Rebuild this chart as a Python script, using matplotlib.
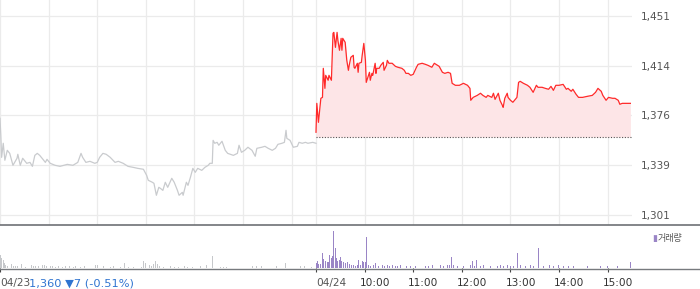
import matplotlib
matplotlib.use("Agg")
import matplotlib.pyplot as plt
import matplotlib.transforms as mtransforms
from matplotlib.lines import Line2D

# minutes since 04/23 09:00 (sessions back to back, 04/24 09:00 = 390)
prev_t = [0, 1, 2, 4, 6, 9, 12, 16, 21, 22, 25, 28, 33, 37, 40, 43, 46, 49, 53, 56, 58, 62, 68, 74, 83, 90,
          96, 100, 102, 106, 111, 117, 120, 123, 127, 131, 136, 142, 146, 152, 158, 164, 170, 177, 181, 183,
          188, 190, 193, 196, 198, 201, 204, 207, 212, 215, 219, 221, 225, 226, 230, 232, 235, 238, 241, 244,
          249, 253, 257, 259, 262, 263, 265, 268, 270, 274, 278, 281, 288, 293, 295, 298, 302, 306, 311, 315,
          317, 323, 327, 331, 336, 340, 343, 348, 351, 353, 354, 358, 362, 367, 369, 373, 377, 380, 386, 390]
prev_p = [1374.1, 1361.3, 1344.7, 1355.3, 1342.5, 1350.0, 1347.7, 1338.7, 1344.0, 1347.0, 1338.7, 1344.0,
          1340.2, 1340.9, 1337.9, 1346.2, 1347.7, 1346.2, 1343.2, 1340.9, 1343.2, 1340.2, 1338.7, 1337.9,
          1339.4, 1338.7, 1340.9, 1347.7, 1344.7, 1340.9, 1341.7, 1340.2, 1340.9, 1344.7, 1347.7, 1347.0,
          1344.7, 1340.9, 1341.7, 1340.2, 1337.9, 1337.2, 1336.4, 1335.7, 1331.1, 1327.4, 1325.9, 1325.1,
          1316.1, 1322.1, 1321.3, 1319.8, 1325.9, 1322.1, 1328.9, 1325.9, 1319.8, 1316.1, 1318.3, 1316.1,
          1325.9, 1323.6, 1329.6, 1336.4, 1333.4, 1336.4, 1334.9, 1337.2, 1338.7, 1340.2, 1340.2, 1357.5,
          1355.3, 1356.0, 1353.8, 1356.8, 1350.0, 1347.7, 1346.2, 1347.7, 1353.8, 1348.5, 1350.0, 1352.3,
          1350.0, 1345.5, 1351.5, 1352.3, 1353.0, 1351.5, 1350.0, 1351.5, 1354.5, 1355.3, 1356.0, 1365.1,
          1359.0, 1357.5, 1352.3, 1353.0, 1356.0, 1355.3, 1356.0, 1355.3, 1356.0, 1355.3]

cur_t = [390, 391, 393, 396, 398, 399, 401, 402, 405, 406, 409, 410, 411, 412, 414, 416, 417, 419, 421, 422,
         423, 426, 428, 430, 431, 433, 436, 437, 438, 441, 442, 443, 446, 447, 449, 451, 452, 454, 456, 457,
         459, 460, 463, 464, 465, 468, 470, 473, 474, 477, 478, 480, 484, 488, 491, 496, 499, 501, 504, 507,
         510, 514, 516, 521, 525, 528, 533, 536, 540, 542, 546, 549, 553, 556, 558, 562, 567, 572, 577, 580,
         581, 584, 589, 593, 596, 600, 602, 607, 609, 611, 615, 617, 620, 621, 623, 626, 627, 630, 633, 638,
         640, 642, 646, 651, 654, 658, 662, 664, 669, 673, 677, 680, 683, 686, 690, 695, 699, 701, 705, 707,
         711, 714, 719, 725, 731, 735, 738, 742, 744, 748, 751, 756, 759, 763, 765, 768, 772, 778]
cur_p = [1363.6, 1385.4, 1371.1, 1389.2, 1389.9, 1411.8, 1396.7, 1406.5, 1402.8, 1406.5, 1402.8, 1420.1,
         1438.2, 1438.9, 1427.6, 1438.9, 1432.9, 1425.4, 1434.4, 1425.4, 1434.4, 1431.4, 1417.8, 1410.3,
         1414.1, 1420.1, 1421.6, 1412.6, 1411.8, 1415.6, 1408.8, 1415.6, 1416.3, 1421.6, 1430.6, 1417.8,
         1401.2, 1405.0, 1408.8, 1402.8, 1408.0, 1406.5, 1415.6, 1408.0, 1411.8, 1411.8, 1414.1, 1416.3,
         1410.3, 1414.1, 1417.8, 1415.6, 1415.6, 1413.3, 1412.6, 1411.8, 1410.3, 1408.0, 1408.0, 1406.5,
         1407.3, 1412.6, 1414.8, 1415.6, 1414.8, 1414.1, 1412.6, 1415.6, 1414.1, 1413.3, 1408.8, 1408.0,
         1408.8, 1408.0, 1400.5, 1399.0, 1399.0, 1400.5, 1399.0, 1396.7, 1387.7, 1389.9, 1391.4, 1393.0,
         1391.4, 1389.9, 1391.4, 1389.9, 1393.0, 1388.4, 1393.0, 1387.7, 1383.9, 1382.4, 1389.2, 1393.0,
         1389.9, 1387.7, 1386.2, 1389.9, 1401.2, 1402.0, 1400.5, 1399.0, 1397.5, 1393.7, 1399.0, 1397.5,
         1397.5, 1396.7, 1396.0, 1398.2, 1395.2, 1399.0, 1399.0, 1399.7, 1396.0, 1396.7, 1394.5, 1396.0,
         1392.2, 1389.9, 1389.9, 1390.7, 1391.4, 1393.7, 1396.7, 1394.5, 1391.4, 1387.7, 1389.9, 1389.2,
         1389.2, 1387.7, 1384.7, 1385.4, 1385.4, 1385.4]

prev_close = 1360
change_text = "1,360 \u25bc7 (-0.51%)"

vol_prev_t = [0, 1, 2, 4, 5, 6, 9, 14, 16, 19, 21, 23, 26, 28, 31, 38, 41, 43, 47, 52, 54, 57, 62, 64, 68, 72,
              77, 80, 85, 90, 93, 99, 104, 117, 120, 123, 127, 136, 140, 148, 153, 158, 164, 174, 177, 179,
              181, 184, 186, 189, 191, 194, 196, 201, 210, 215, 220, 223, 227, 231, 237, 247, 254, 262, 272,
              275, 279, 311, 316, 322, 341, 352, 370, 375, 384]
vol_prev = [13, 10, 11, 8, 5, 3, 2, 4, 2, 2, 2, 3, 4, 2, 1, 3, 2, 2, 2, 3, 3, 2, 2, 2, 1, 2, 1, 2, 2, 1, 2, 1,
            2, 3, 3, 2, 2, 1, 2, 1, 5, 1, 1, 1, 7, 5, 4, 3, 2, 4, 7, 4, 2, 1, 2, 1, 1, 2, 2, 1, 1, 2, 3, 12,
            1, 1, 1, 2, 2, 2, 2, 5, 2, 2, 1]

vol_cur_t = [390, 391, 393, 395, 398, 399, 401, 404, 405, 406, 409, 410, 411, 414, 415, 416, 419, 420, 421,
             423, 426, 428, 431, 433, 436, 438, 441, 442, 444, 447, 448, 451, 452, 454, 457, 460, 463, 467,
             472, 474, 478, 480, 484, 488, 490, 494, 498, 501, 506, 512, 525, 528, 533, 543, 547, 552, 554,
             557, 559, 564, 572, 577, 580, 583, 585, 588, 593, 596, 605, 614, 617, 621, 626, 630, 633, 638,
             642, 648, 654, 658, 664, 670, 678, 683, 689, 695, 701, 707, 714, 725, 735, 741, 749, 756, 762,
             778]
vol_cur = [5, 7.3, 4, 4, 15, 9.3, 6.7, 6, 6, 12.6, 10, 11.6, 36.6, 20, 10, 7.3, 8.3, 11, 7.3, 6, 5, 5.6, 4,
           2.6, 2.6, 1.6, 2.6, 8.3, 3.3, 7.3, 6, 6, 30.6, 2.6, 1.6, 2.6, 5, 1.6, 2.6, 1.6, 3.3, 1.6, 3.3,
           1.6, 2, 2.6, 1.6, 1.6, 1.6, 1.6, 1.6, 1.6, 3.3, 2.6, 1.6, 2.6, 2.6, 10.6, 2.6, 1.6, 1.6, 5, 2.6,
           6.6, 1.6, 8.3, 1.6, 2.6, 1.6, 1.6, 2.6, 1.6, 2.6, 1.6, 1.6, 15.3, 2.6, 1.6, 2.6, 1.6, 20, 1.6,
           2.6, 1.6, 2.6, 1.6, 1.6, 1.6, 1.6, 1.6, 9.3, 1.6, 1.6, 1.6, 1.6, 6]

y_ticks = [1301.25, 1338.75, 1376.25, 1413.75, 1451.25]
y_labels = ["1,301", "1,339", "1,376", "1,414", "1,451"]
grid_x = [0, 60, 120, 180, 240, 300, 360, 390, 450, 510, 570, 630, 690, 750]
x_ticks = [0, 390, 450, 510, 570, 630, 690, 750]
x_labels = ["04/23", "04/24", "10:00", "11:00", "12:00", "13:00", "14:00", "15:00"]

W, H = 700, 289
fig = plt.figure(figsize=(7, 2.89), dpi=100)
plot_w = 632 / W

ax = fig.add_axes([0, (H - 225) / H, plot_w, 225 / H])
ax.set_xlim(0, 780)
ax.set_ylim(1293.7, 1463.3)
ax.plot(prev_t, prev_p, color="#c9cbce", lw=0.9)
ax.fill_between(cur_t, cur_p, prev_close, color="#fde5e7", lw=0)
ax.plot(cur_t, cur_p, color="#ff2a2a", lw=0.9)
ax.hlines(prev_close, 390, 780, colors="#555555", linestyles=(0, (1, 1.5)), lw=0.8)
for s in ax.spines.values():
    s.set_visible(False)
ax.set_xticks(grid_x)
ax.set_xticklabels([])
ax.tick_params(axis="x", length=0)
ax.yaxis.tick_right()
ax.set_yticks(y_ticks)
ax.set_yticklabels(y_labels)
ax.tick_params(axis="y", length=0, pad=6, labelsize=7.5, labelcolor="#555555")
ax.grid(True, color="#ebebeb", lw=0.9)
ax.set_axisbelow(True)

axv = fig.add_axes([0, (H - 268) / H, plot_w, 42 / H])
axv.set_xlim(0, 780)
axv.set_ylim(0, 42)
axv.bar(vol_prev_t, vol_prev, width=1.0, color="#c6c8cb", lw=0, align="edge")
axv.bar(vol_cur_t, vol_cur, width=1.0, color="#9a85c6", lw=0, align="edge")
for s in axv.spines.values():
    s.set_visible(False)
axv.set_yticks([])
axv.set_xticks(x_ticks)
axv.set_xticklabels(x_labels)
axv.tick_params(axis="x", length=3, width=0.8, color="#444444", pad=4.5,
                labelsize=7.6, labelcolor="#333333")
for i, lab in enumerate(axv.get_xticklabels()):
    lab.set_ha("left")
    if i >= 2:
        lab.set_transform(lab.get_transform() + mtransforms.ScaledTranslation(-5 / 100, 0, fig.dpi_scale_trans))
    else:
        lab.set_color("#555555")

fig.add_artist(Line2D([0, 1], [(H - 225) / H] * 2, color="#6e7175", lw=1.2))
fig.add_artist(Line2D([0, 1], [(H - 268.5) / H] * 2, color="#777a7e", lw=1.0))

fig.text(29 / W, 1 - 283.5 / H, change_text, color="#2f74d0", fontsize=8.2, va="center", ha="left")
fig.text(652 / W, 1 - 238 / H, "\u25ae", color="#9a85c6", fontsize=6.5, va="center", ha="left")
fig.text(658 / W, 1 - 238 / H, "거래량", color="#555555", fontsize=6.5, va="center", ha="left",
         family=["Noto Sans CJK KR", "DejaVu Sans"])

fig.savefig("out.png", dpi=100)
